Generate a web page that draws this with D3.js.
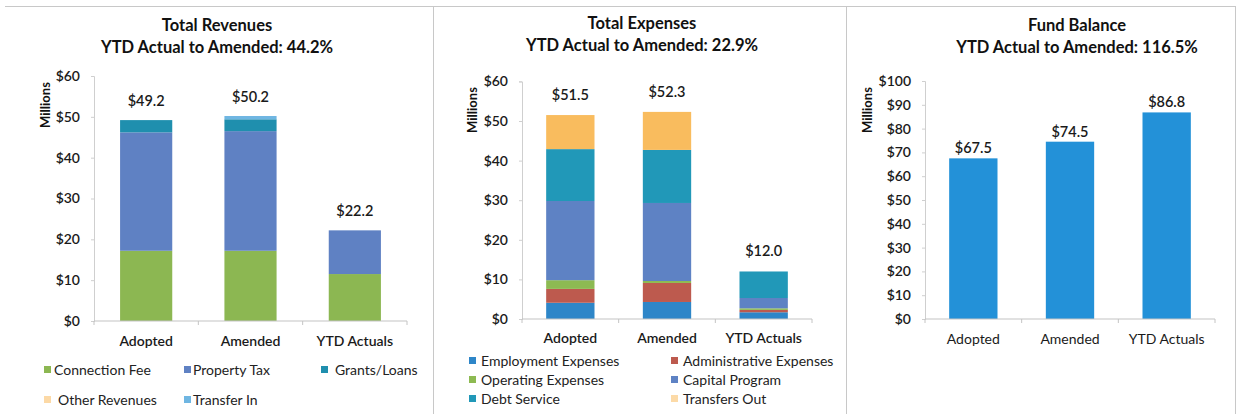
<!DOCTYPE html>
<html>
<head>
<meta charset="utf-8">
<script src="https://cdn.jsdelivr.net/npm/d3@7"></script>
<style>
  html, body { margin: 0; padding: 0; background: #fff; }
  svg { display: block; font-family: Lato, "Open Sans", sans-serif; }
</style>
</head>
<body>
<svg id="chart" width="1239" height="414"></svg>
<script>
// Shared categories
const categories = ["Adopted", "Amended", "YTD Actuals"];

// Total Revenues (millions)
const revenueSeries = ["Connection Fee", "Property Tax", "Grants/Loans", "Other Revenues", "Transfer In"];
const revenueColors = ["#8cb752", "#5f81c3", "#1f8fae", "#f9b95c", "#6fb6e2"];
const connectionFee = [17.2, 17.2, 11.5];
const propertyTax   = [29.0, 29.3, 10.7];
const grantsLoans   = [3.0, 2.9, 0.0];
const otherRevenues = [0.0, 0.0, 0.0];
const transferIn    = [0.0, 0.8, 0.0];
const revenueTotals = [49.2, 50.2, 22.2];
const revenueTicks  = [0, 10, 20, 30, 40, 50, 60];

// Total Expenses (millions)
const expenseSeries = ["Employment Expenses", "Administrative Expenses", "Operating Expenses",
                       "Capital Program", "Debt Service", "Transfers Out"];
const expenseColors = ["#2e86c8", "#bd5a4e", "#8dba52", "#5e82c4", "#2198b8", "#f9bc5e"];
const employment     = [4.1, 4.3, 1.7];
const administrative = [3.5, 4.8, 0.6];
const operating      = [2.2, 0.5, 0.4];
const capitalProgram = [20.0, 19.7, 2.6];
const debtService    = [13.1, 13.4, 6.7];
const transfersOut   = [8.6, 9.6, 0.0];
const expenseTotals  = [51.5, 52.3, 12.0];
const expenseTicks   = [0, 10, 20, 30, 40, 50, 60];

// Fund Balance (millions)
const fundBalance = [67.5, 74.5, 86.8];
const fundColor   = "#2391d8";
const fundTicks   = [0, 10, 20, 30, 40, 50, 60, 70, 80, 90, 100];

const svg = d3.select("#chart");

// Frame lines around and between the three panels
const frame = svg.append("g").attr("stroke", "#c8c8c8").attr("stroke-width", 1);
frame.append("line").attr("x1", 5).attr("x2", 1235).attr("y1", 6.5).attr("y2", 6.5);
[433.5, 846.5, 1235.5].forEach(x =>
  frame.append("line").attr("x1", x).attr("x2", x).attr("y1", 6).attr("y2", 414));

const money = d => "$" + d3.format(".1f")(d);

function drawPanel(cfg) {
  const g = svg.append("g");

  // Titles
  cfg.titles.forEach((t, i) => {
    g.append("text")
      .attr("x", cfg.titleX).attr("y", cfg.titleY + i * 22)
      .attr("text-anchor", "middle")
      .attr("font-size", 16.5).attr("font-weight", 700).attr("fill", "#111")
      .text(t);
  });

  const x = d3.scaleBand().domain(categories)
    .range([cfg.x0, cfg.x1]).paddingInner(0.5).paddingOuter(0.25);
  const y = d3.scaleLinear().domain([0, cfg.max]).range([cfg.y0, cfg.yTop]);

  // Y axis
  const ya = g.append("g").attr("transform", `translate(${cfg.x0},0)`)
    .call(d3.axisLeft(y).tickValues(cfg.ticks).tickFormat(d => "$" + d).tickSize(3).tickPadding(11));
  ya.select(".domain").attr("stroke", "#cfcfcf");
  ya.selectAll(".tick line").attr("stroke", "#cfcfcf");
  ya.selectAll(".tick text").attr("font-size", 14).attr("font-weight", 600)
    .attr("fill", "#1a1a1a").attr("font-family", "Lato, sans-serif");

  // Axis title
  g.append("text")
    .attr("transform", `translate(${cfg.millionsX},${cfg.millionsY}) rotate(-90)`)
    .attr("text-anchor", "middle").attr("font-size", 13).attr("font-weight", 700)
    .attr("fill", "#111").text("Millions");

  // Stacked or single bars
  const stack = d3.stack().keys(cfg.series.map((_, i) => i)).value((row, k) => row[k]);
  const rows = categories.map((c, ci) => cfg.values.map(v => v[ci]));
  const layers = stack(rows);
  layers.forEach((layer, li) => {
    g.append("g").attr("fill", cfg.colors[li])
      .selectAll("rect").data(layer).join("rect")
      .attr("x", (d, i) => x(categories[i]))
      .attr("width", x.bandwidth())
      .attr("y", d => y(d[1]))
      .attr("height", d => Math.max(0, y(d[0]) - y(d[1])));
  });

  // X axis baseline with category separators
  const xa = g.append("g").attr("transform", `translate(0,${cfg.y0})`);
  xa.append("line").attr("x1", cfg.x0).attr("x2", cfg.x1)
    .attr("stroke", "#c4c4c4").attr("stroke-width", 1.2);
  const step = x.step();
  d3.range(4).forEach(i => {
    const px = cfg.x0 + i * step;
    xa.append("line").attr("x1", px).attr("x2", px).attr("y1", 0).attr("y2", 4)
      .attr("stroke", "#c4c4c4");
  });
  xa.selectAll("text.cat").data(categories).join("text")
    .attr("class", "cat")
    .attr("x", d => x(d) + x.bandwidth() / 2)
    .attr("y", cfg.catY - cfg.y0)
    .attr("text-anchor", "middle")
    .attr("font-size", 14).attr("font-weight", cfg.catWeight).attr("fill", "#1a1a1a")
    .text(d => d);

  // Value labels from the stacked totals
  const tops = layers[layers.length - 1];
  g.selectAll("text.val").data(cfg.totals).join("text")
    .attr("class", "val")
    .attr("x", (d, i) => x(categories[i]) + x.bandwidth() / 2)
    .attr("y", (d, i) => y(tops[i][1]) - cfg.labelGap)
    .attr("text-anchor", "middle")
    .attr("font-size", cfg.valSize).attr("font-weight", 600).attr("fill", "#1a1a1a")
    .text(d => money(d));

  // Legend
  if (cfg.legend) {
    cfg.legend.forEach((item, i) => {
      const lx = item.x, ly = item.y;
      g.append("rect").attr("x", lx).attr("y", ly - 4).attr("width", 7).attr("height", 7)
        .attr("fill", cfg.colors[i]).attr("opacity", item.faint ? 0.55 : 1);
      g.append("text").attr("x", lx + item.dx).attr("y", ly + 5)
        .attr("font-size", 14).attr("fill", "#222")
        .text(cfg.series[i]);
    });
  }
}

drawPanel({
  titles: ["Total Revenues", "YTD Actual to Amended: 44.2%"],
  titleX: 217, titleY: 31,
  x0: 94, x1: 407, y0: 321, yTop: 76, max: 60, ticks: revenueTicks,
  millionsX: 50, millionsY: 105,
  series: revenueSeries, colors: revenueColors,
  values: [connectionFee, propertyTax, grantsLoans, otherRevenues, transferIn],
  totals: revenueTotals, labelGap: 14, valSize: 14.5,
  catY: 346, catWeight: 600,
  legend: [
    { x: 44, y: 370, dx: 10 }, { x: 184, y: 370, dx: 9 }, { x: 321, y: 370, dx: 14 },
    { x: 44, y: 400, dx: 14, faint: true }, { x: 184, y: 400, dx: 9 }
  ]
});

drawPanel({
  titles: ["Total Expenses", "YTD Actual to Amended: 22.9%"],
  titleX: 642, titleY: 29,
  x0: 522, x1: 812, y0: 319, yTop: 81.4, max: 60, ticks: expenseTicks,
  millionsX: 477, millionsY: 110,
  series: expenseSeries, colors: expenseColors,
  values: [employment, administrative, operating, capitalProgram, debtService, transfersOut],
  totals: expenseTotals, labelGap: 15, valSize: 14.5,
  catY: 343, catWeight: 600,
  legend: [
    { x: 469, y: 361, dx: 12 }, { x: 671, y: 361, dx: 12 },
    { x: 469, y: 380, dx: 12 }, { x: 671, y: 380, dx: 12 },
    { x: 469, y: 399, dx: 12 }, { x: 671, y: 399, dx: 12, faint: true }
  ]
});

drawPanel({
  titles: ["Fund Balance", "YTD Actual to Amended: 116.5%"],
  titleX: 1077, titleY: 31,
  x0: 925, x1: 1215, y0: 319, yTop: 81, max: 100, ticks: fundTicks,
  millionsX: 872, millionsY: 110,
  series: ["Fund Balance"], colors: [fundColor],
  values: [fundBalance],
  totals: fundBalance, labelGap: 5, valSize: 14.5,
  catY: 344, catWeight: 400,
  legend: null
});
</script>
</body>
</html>
